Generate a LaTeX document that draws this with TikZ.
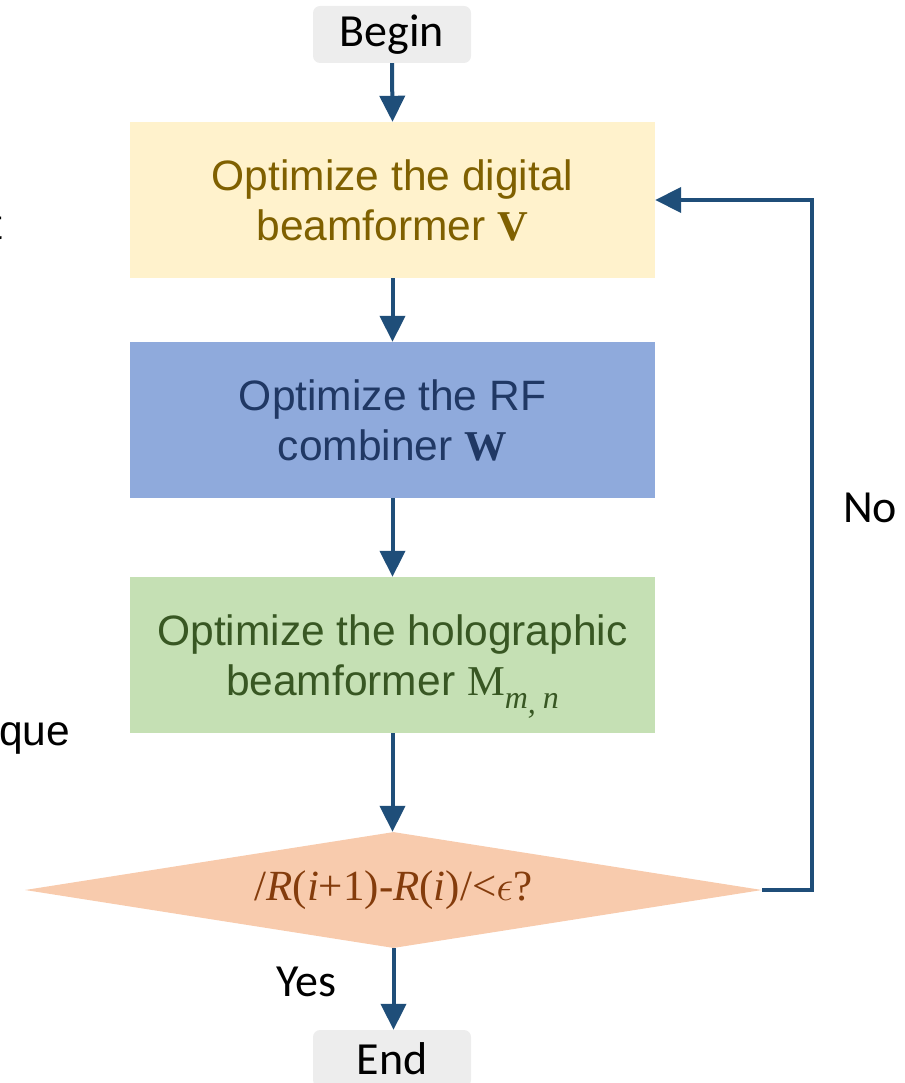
\documentclass[tikz,border=0pt]{standalone}
\usepackage{fix-cm}
\usepackage{fontspec}
\setmainfont{Liberation Sans}
\newfontfamily\cali{Carlito}
\newfontfamily\tnr{Liberation Serif}
\usetikzlibrary{arrows.meta,shapes.geometric}
\definecolor{termgray}{HTML}{EDEDED}
\definecolor{fillA}{HTML}{FFF2CC}
\definecolor{textA}{HTML}{7F6000}
\definecolor{fillB}{HTML}{8FAADC}
\definecolor{textB}{HTML}{203864}
\definecolor{fillC}{HTML}{C5E0B4}
\definecolor{textC}{HTML}{385723}
\definecolor{fillD}{HTML}{F8CBAD}
\definecolor{textD}{HTML}{843C0C}
\definecolor{arrowblue}{HTML}{1F4E79}
\begin{document}
\begin{tikzpicture}[x=1pt,y=-1pt,
  termbox/.style={draw=none, rounded corners=7pt, fill=termgray, minimum width=158pt,
    minimum height=57pt, inner sep=0pt, text=black, font=\cali\fontsize{46}{50}\selectfont},
  procbox/.style={draw=none, minimum width=525pt, minimum height=156pt, inner sep=0pt,
    align=center, font=\fontsize{42.5}{50}\selectfont},
  decbox/.style={draw=none, shape=diamond, aspect=6.35, minimum width=737pt,
    minimum height=116pt, inner sep=0pt, fill=fillD, text=textD,
    font=\tnr\fontsize{43}{50}\selectfont},
  lbl/.style={inner sep=0pt, text=black, font=\cali\fontsize{46}{50}\selectfont},
  frag/.style={inner sep=0pt, text=black, font=\fontsize{42.5}{50}\selectfont},
  arr/.style={draw=arrowblue, line width=4pt, -{Triangle[length=26pt,width=25pt]}}
]
\useasboundingbox (0,0) rectangle (904,1083);
\clip (0,0) rectangle (904,1083);

\node[termbox] (begin) at (392,34.5) {Begin};
\node[procbox, fill=fillA, text=textA] (optV) at (392.5,200)
  {Optimize the digital\\beamformer {\tnr\bfseries V}};
\node[procbox, fill=fillB, text=textB] (optW) at (392.5,420)
  {Optimize the RF\\combiner {\tnr\bfseries W}};
\node[procbox, fill=fillC, text=textC] (optM) at (392.5,655)
  {Optimize the holographic\\beamformer {\tnr M}\raisebox{-13pt}[0pt][0pt]{\tnr\itshape\fontsize{32}{34}\selectfont m\raisebox{-5pt}{,}\hspace{7pt}n}};
\node[decbox] (dec) at (393.5,890)
  {/\textit{R}(\textit{i}+1)-\textit{R}(\textit{i})/<$\epsilon$?};
\node[termbox] (end) at (392,1058.5) {End};

\node[lbl] (yes) at (306,982) {Yes};
\node[lbl] (no) at (870,508) {No};
\node[frag, anchor=base west] (que) at (-1,745) {que};
\node[frag, anchor=base east] (tfrag) at (3,240) {t};

\draw[arr] (begin.south) -- (optV.north);
\draw[arr] (optV.south) -- (optW.north);
\draw[arr] (optW.south) -- (optM.north);
\draw[arr] (optM.south) -- (optM.south |- dec.north);
\draw[arr] (dec.south) -- (dec.south |- end.north);
\coordinate (loopc) at (812,890);
\draw[arr] (dec.east) -- (loopc) |- (optV.east);
\end{tikzpicture}
\end{document}
